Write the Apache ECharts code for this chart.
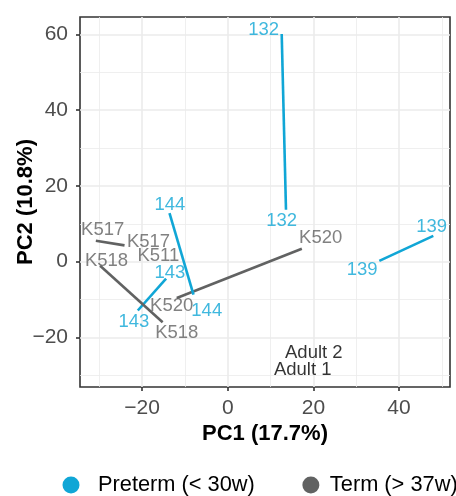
<!DOCTYPE html>
<html>
<head>
<meta charset="utf-8">
<script src="https://cdn.jsdelivr.net/npm/echarts@6/dist/echarts.min.js"></script>
<style>
  html, body { margin: 0; padding: 0; background: #ffffff; }
  #chart { width: 456px; height: 496px; }
</style>
</head>
<body>
<div id="chart"></div>
<script>
// PCA scores: the two samples of each subject are joined by a segment
const pairIds   = ['132', '139', 'K520', '144', '143', 'K518', 'K517'];
const pairGroup = ['preterm', 'preterm', 'term', 'preterm', 'preterm', 'term', 'term'];
const startPC1  = [12.6, 48.0, 17.3, -13.6, -14.4, -29.8, -30.8];
const startPC2  = [60.1, 6.8, 3.4, 12.8, -4.5, -1.1, 5.5];
const endPC1    = [13.6, 35.4, -11.9, -8.0, -21.0, -15.2, -24.1];
const endPC2    = [13.7, 0.2, -9.6, -8.7, -12.9, -16.0, 4.3];

// Sample labels (repelled away from the segment ends)
const labelText  = ['132', '132', '139', '139', 'K520', 'K520', '144', '144', '143', '143',
                    'K518', 'K518', 'K517', 'K517', 'K511', 'Adult 2', 'Adult 1'];
const labelGroup = ['preterm', 'preterm', 'preterm', 'preterm', 'term', 'term', 'preterm', 'preterm',
                    'preterm', 'preterm', 'term', 'term', 'term', 'term', 'term', 'adult', 'adult'];
const labelPC1   = [8.4, 12.6, 47.6, 31.4, 21.7, -13.1, -13.5, -4.9, -13.5, -21.9,
                    -28.3, -11.9, -29.2, -18.5, -16.2, 20.1, 17.5];
const labelPC2   = [61.1, 10.85, 9.3, -2.15, 6.2, -11.6, 15.0, -13.0, -2.9, -16.0,
                    0.2, -18.8, 8.4, 5.3, 1.4, -24.1, -28.5];

// Axis ranges and tick positions
const pc1Range = [-34.5, 51.9];
const pc2Range = [-33.1, 64.6];
const xMajorTicks = [-20, 0, 20, 40];
const xMinorTicks = [-30, -10, 10, 30, 50];
const yMajorTicks = [-20, 0, 20, 40, 60];
const yMinorTicks = [-30, -10, 10, 30, 50];

const groupName  = { preterm: 'Preterm (< 30w)', term: 'Term (> 37w)', adult: 'Adult' };
const groupColor = { preterm: '#10a6d6', term: '#616262', adult: '#000000' };

const FONT = '"Liberation Sans", Arial, Helvetica, sans-serif';
const minus = v => String(v).replace('-', '\u2212');

const segmentSeries = pairIds.map((id, i) => ({
  type: 'line',
  name: groupName[pairGroup[i]],
  xAxisIndex: 0,
  yAxisIndex: 0,
  data: [[startPC1[i], startPC2[i]], [endPC1[i], endPC2[i]]],
  symbol: 'none',
  silent: true,
  animation: false,
  itemStyle: { color: groupColor[pairGroup[i]] },
  lineStyle: { color: groupColor[pairGroup[i]], width: 2.6 },
  z: 3
}));

const labelSeries = {
  type: 'scatter',
  name: 'labels',
  xAxisIndex: 0,
  yAxisIndex: 0,
  symbolSize: 0,
  silent: true,
  animation: false,
  data: labelText.map((t, i) => ({
    value: [labelPC1[i], labelPC2[i]],
    name: t,
    label: { color: groupColor[labelGroup[i]] }
  })),
  label: {
    show: true,
    position: 'inside',
    formatter: '{b}',
    fontFamily: FONT,
    fontSize: 18.5,
    align: 'center',
    verticalAlign: 'middle'
  },
  z: 4
};

const majorGrid = { show: true, lineStyle: { color: '#ebebeb', width: 1.6 } };
const minorGrid = { show: true, lineStyle: { color: '#ebebeb', width: 0.8 } };

const option = {
  backgroundColor: '#ffffff',
  animation: false,
  grid: {
    left: 80, right: 6, top: 17, bottom: 109,
    outerBoundsMode: 'none',
    containLabel: false,
    show: true, borderColor: '#333333', borderWidth: 1.6, backgroundColor: 'transparent'
  },
  legend: {
    data: [
      { name: groupName.preterm, icon: 'circle', textStyle: { padding: [0, 0, 0, 13.5] } },
      { name: groupName.term, icon: 'circle', textStyle: { padding: [0, 0, 0, 5.5] } }
    ],
    left: 57.5,
    top: 469,
    width: 420,
    itemWidth: 17,
    itemHeight: 17,
    itemGap: 47.5,
    selectedMode: false,
    textStyle: { fontFamily: FONT, fontSize: 21.8, color: '#000000' }
  },
  xAxis: [
    {
      type: 'value',
      position: 'bottom',
      min: pc1Range[0], max: pc1Range[1],
      name: 'PC1 (17.7%)',
      nameLocation: 'middle',
      nameGap: 36,
      nameMoveOverlap: false,
      nameTextStyle: { fontFamily: FONT, fontSize: 22, fontWeight: 'bold', color: '#000000' },
      axisLine: { show: false, onZero: false },
      axisTick: { show: true, customValues: xMajorTicks, length: 4, lineStyle: { color: '#333333', width: 1.6 } },
      axisLabel: { customValues: xMajorTicks, formatter: minus, fontFamily: FONT, fontSize: 21, color: '#4d4d4d', margin: 11 },
      splitLine: majorGrid
    },
    {
      type: 'value',
      min: pc1Range[0], max: pc1Range[1],
      axisLine: { show: false, onZero: false },
      axisTick: { show: false, customValues: xMinorTicks },
      axisLabel: { show: false },
      splitLine: minorGrid
    }
  ],
  yAxis: [
    {
      type: 'value',
      position: 'left',
      min: pc2Range[0], max: pc2Range[1],
      name: 'PC2 (10.8%)',
      nameLocation: 'middle',
      nameRotate: 90,
      nameGap: 43,
      nameMoveOverlap: false,
      nameTextStyle: { fontFamily: FONT, fontSize: 22, fontWeight: 'bold', color: '#000000' },
      axisLine: { show: false, onZero: false },
      axisTick: { show: true, customValues: yMajorTicks, length: 4, lineStyle: { color: '#333333', width: 1.6 } },
      axisLabel: { customValues: yMajorTicks, formatter: minus, fontFamily: FONT, fontSize: 21, color: '#4d4d4d', margin: 12 },
      splitLine: majorGrid
    },
    {
      type: 'value',
      min: pc2Range[0], max: pc2Range[1],
      axisLine: { show: false, onZero: false },
      axisTick: { show: false, customValues: yMinorTicks },
      axisLabel: { show: false },
      splitLine: minorGrid
    }
  ],
  series: segmentSeries.concat([labelSeries])
};

const chart = echarts.init(document.getElementById('chart'), null, { renderer: 'canvas' });
chart.setOption(option);
</script>
</body>
</html>
